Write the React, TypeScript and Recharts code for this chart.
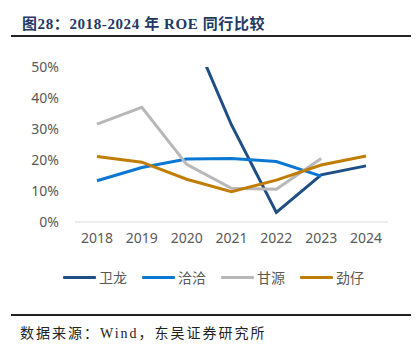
import { LineChart, Line, XAxis, YAxis } from "recharts";

const years = ["2018", "2019", "2020", "2021", "2022", "2023", "2024"];
// ROE, in %
const weilong = [null, null, 65, 31.3, 3.1, 15.2, 18.1];
const qiaqia = [13.3, 17.6, 20.3, 20.5, 19.5, 14.8, null];
const ganyuan = [31.6, 37, 18.6, 10.9, 10.6, 20.5, null];
const jinzai = [21.1, 19.3, 13.8, 9.8, 13.5, 18.4, 21.3];
const yTicks = [0, 10, 20, 30, 40, 50];

const series = [
  { key: "weilong", name: "卫龙", color: "#1F4E85" },
  { key: "qiaqia", name: "洽洽", color: "#0A78D2" },
  { key: "ganyuan", name: "甘源", color: "#B8B8B8" },
  { key: "jinzai", name: "劲仔", color: "#C07D04" },
];

const data = years.map((year, i) => ({
  year,
  weilong: weilong[i],
  qiaqia: qiaqia[i],
  ganyuan: ganyuan[i],
  jinzai: jinzai[i],
}));

const tickStyle = { fill: "#595959", fontSize: 14, fontFamily: "'Noto Sans', sans-serif" };

export default function App() {
  return (
    <div style={{ position: "relative", width: 419, height: 356, margin: -8, background: "#fff" }}>
      <div
        style={{
          position: "absolute",
          left: 22,
          top: 12,
          fontFamily: "'Liberation Serif', 'Noto Sans CJK SC', serif",
          fontWeight: "bold",
          fontSize: 15,
          letterSpacing: 0.6,
          color: "#1F3864",
          whiteSpace: "nowrap",
        }}
      >
        图28：2018-2024 年 ROE 同行比较
      </div>
      <div style={{ position: "absolute", left: 11, top: 35, width: 402, height: 2, background: "#222" }} />

      <div style={{ position: "absolute", left: 0, top: 0 }}>
        <LineChart width={419} height={300} data={data} margin={{ top: 67, right: 31, left: 15, bottom: 48 }}>
          <XAxis
            dataKey="year"
            padding={{ left: 22, right: 22 }}
            tickLine={false}
            axisLine={{ stroke: "#D9D9D9" }}
            tick={tickStyle}
            tickMargin={5}
            height={30}
            interval={0}
          />
          <YAxis
            domain={[0, 50]}
            ticks={yTicks}
            allowDataOverflow
            tickFormatter={(v) => `${v}%`}
            tickLine={false}
            axisLine={false}
            tick={tickStyle}
            tickMargin={10}
            width={60}
          />
          {series.map((s) => (
            <Line
              key={s.key}
              dataKey={s.key}
              name={s.name}
              stroke={s.color}
              strokeWidth={3}
              dot={false}
              type="linear"
              isAnimationActive={false}
            />
          ))}
        </LineChart>
      </div>

      <div style={{ position: "absolute", left: 63, top: 266, display: "flex" }}>
        {series.map((s) => (
          <div key={s.key} style={{ display: "flex", alignItems: "center", width: 79, height: 22 }}>
            <div style={{ width: 33, height: 3, background: s.color, borderRadius: 1 }} />
            <span
              style={{
                marginLeft: 3,
                fontSize: 14,
                color: "#595959",
                fontFamily: "'Noto Sans CJK SC', sans-serif",
              }}
            >
              {s.name}
            </span>
          </div>
        ))}
      </div>

      <div style={{ position: "absolute", left: 11, top: 314, width: 402, height: 1.5, background: "#222" }} />
      <div
        style={{
          position: "absolute",
          left: 20,
          top: 322,
          fontFamily: "'Liberation Serif', 'Noto Sans CJK SC', serif",
          fontSize: 14,
          letterSpacing: 2,
          color: "#222",
          whiteSpace: "nowrap",
        }}
      >
        数据来源：Wind，东吴证券研究所
      </div>
    </div>
  );
}
